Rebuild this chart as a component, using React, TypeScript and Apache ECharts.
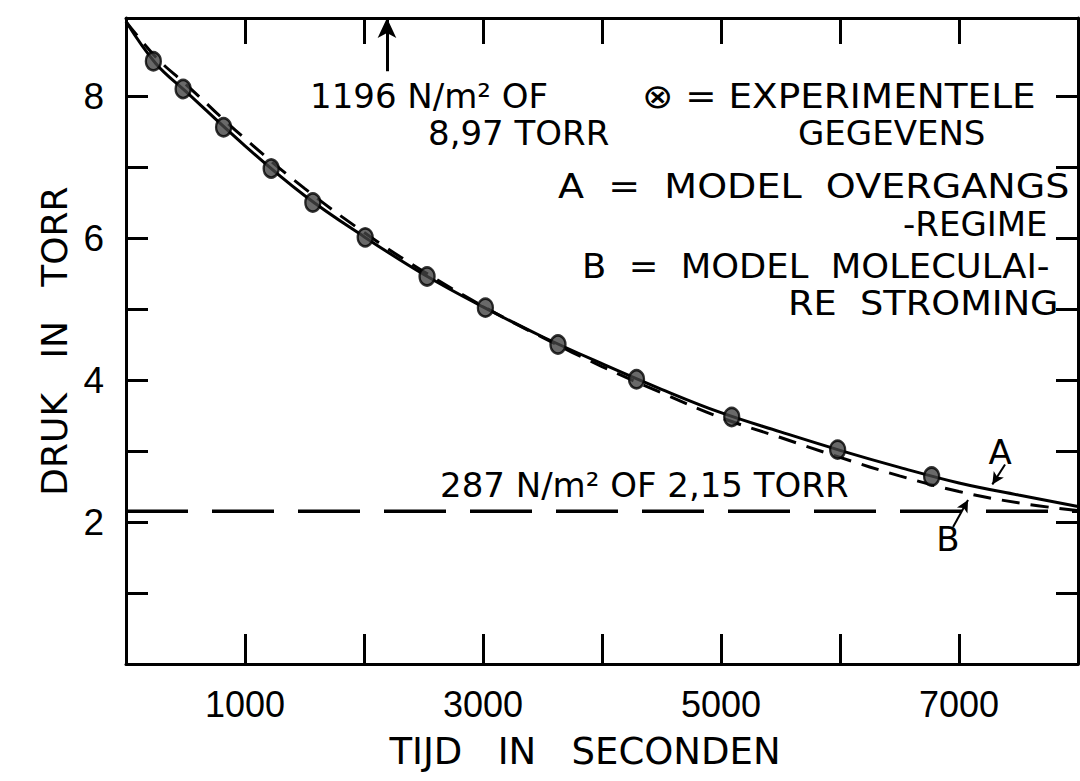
import { useEffect, useRef } from 'react';
import * as echarts from 'echarts';

// Axis ticks and labels
const xTickValues = [1000, 2000, 3000, 4000, 5000, 6000, 7000];
const xLabelValues = [1000, 3000, 5000, 7000];
const yTickValues = [1, 2, 3, 4, 5, 6, 7, 8];
const yLabelValues = [2, 4, 6, 8];

// Model A (overgangsregime), solid curve
const timeA = [0, 250, 500, 1000, 1500, 2000, 2500, 3000, 3500, 4000, 4500, 5000, 5500, 6000, 6500, 7000, 7500, 8000];
const pressA = [9.05, 8.46, 8.07, 7.3, 6.6, 6.02, 5.49, 5.03, 4.61, 4.23, 3.87, 3.54, 3.27, 3.01, 2.77, 2.55, 2.38, 2.22];

// Model B (moleculaire stroming), dashed curve
const timeB = [0, 250, 500, 1000, 1500, 2000, 2500, 3000, 3500, 4000, 4500, 5000, 5500, 6000, 6500, 7000, 7500, 8000];
const pressB = [9.05, 8.55, 8.17, 7.4, 6.7, 6.08, 5.53, 5.04, 4.6, 4.19, 3.82, 3.47, 3.19, 2.91, 2.65, 2.43, 2.27, 2.16];

// Experimental data
const timeExp = [230, 480, 820, 1220, 1570, 2010, 2530, 3020, 3630, 4290, 5090, 5980, 6770];
const pressExp = [8.49, 8.1, 7.56, 6.98, 6.5, 6.01, 5.46, 5.02, 4.5, 4.01, 3.48, 3.02, 2.64];

// Final pressure level line (2.15 torr)
const finalTime = [0, 8000];
const finalPress = [2.15, 2.15];

// Annotation arrows [from, to]
const arrowTop = [[2193, 8.35], [2193, 9.1]];
const arrowA = [[7387, 2.81], [7280, 2.53]];
const arrowB = [[6950, 1.93], [7076, 2.31]];

const zip = (a: number[], b: number[]) => a.map((v, i) => [v, b[i]]);

const NUM_FONT = "'Liberation Sans', Arial, sans-serif";
const TXT_FONT = "'DejaVu Sans', sans-serif";

function txt(text: string, x: number, y: number, size: number, sx = 1, align = 'left') {
  return {
    type: 'text',
    x,
    y,
    scaleX: sx,
    silent: true,
    z: 10,
    style: {
      text,
      x: 0,
      y: 0,
      fill: '#000',
      fontSize: size,
      fontFamily: TXT_FONT,
      textAlign: align,
      textVerticalAlign: 'middle',
      align,
      verticalAlign: 'middle',
    },
  };
}

export default function App() {
  const ref = useRef<HTMLDivElement>(null);
  useEffect(() => {
    if (!ref.current) return;
    const chart = echarts.init(ref.current, null, { renderer: 'svg' });
    const axisLine = { show: true, onZero: false, lineStyle: { color: '#000', width: 3 } };
    chart.setOption({
      animation: false,
      backgroundColor: '#fff',
      grid: { left: 126, top: 18, right: 2, bottom: 117, containLabel: false },
      xAxis: [
        {
          type: 'value',
          position: 'bottom',
          min: 0,
          max: 8000,
          interval: 1000,
          axisLine,
          axisTick: { show: true, inside: true, length: 30, customValues: xTickValues, lineStyle: { color: '#000', width: 3 } },
          axisLabel: {
            customValues: xLabelValues,
            formatter: (v: number) => String(v),
            margin: 22,
            color: '#000',
            fontSize: 36,
            fontFamily: NUM_FONT,
          },
          splitLine: { show: false },
          name: 'TIJD   IN   SECONDEN',
          nameLocation: 'middle',
          nameGap: 69,
          nameTextStyle: { color: '#000', fontSize: 37, fontFamily: TXT_FONT, padding: [0, 34, 0, 0] },
        },
        {
          type: 'value',
          position: 'top',
          min: 0,
          max: 8000,
          interval: 1000,
          axisLine,
          axisTick: { show: true, inside: true, length: 26, customValues: xTickValues, lineStyle: { color: '#000', width: 3 } },
          axisLabel: { show: false },
          splitLine: { show: false },
        },
      ],
      yAxis: [
        {
          type: 'value',
          position: 'left',
          min: 0,
          max: 9.1,
          interval: 1,
          axisLine,
          axisTick: { show: true, inside: true, length: 22, customValues: yTickValues, lineStyle: { color: '#000', width: 3 } },
          axisLabel: { customValues: yLabelValues, margin: 22, color: '#000', fontSize: 37, fontFamily: NUM_FONT },
          splitLine: { show: false },
          name: 'DRUK   IN   TORR',
          nameLocation: 'middle',
          nameGap: 52,
          nameTextStyle: { color: '#000', fontSize: 36, fontFamily: TXT_FONT },
        },
        {
          type: 'value',
          position: 'right',
          min: 0,
          max: 9.1,
          interval: 1,
          axisLine,
          axisTick: { show: true, inside: true, length: 22, customValues: yTickValues, lineStyle: { color: '#000', width: 3 } },
          axisLabel: { show: false },
          splitLine: { show: false },
        },
      ],
      series: [
        {
          name: 'Eindniveau',
          type: 'line',
          data: zip(finalTime, finalPress),
          showSymbol: false,
          symbol: 'none',
          lineStyle: { color: '#000', width: 3.5, type: [62, 24] },
          z: 2,
        },
        {
          name: 'A',
          type: 'line',
          data: zip(timeA, pressA),
          smooth: 0.4,
          showSymbol: false,
          symbol: 'none',
          lineStyle: { color: '#000', width: 3 },
          z: 3,
          markLine: {
            silent: true,
            symbol: ['none', 'arrow'],
            symbolSize: [14, 20],
            label: { show: false },
            lineStyle: { color: '#000', width: 3, type: 'solid' },
            data: [
              [{ coord: arrowTop[0] }, { coord: arrowTop[1] }],
              [
                { coord: arrowA[0], lineStyle: { width: 2 }, symbolSize: [9, 12] },
                { coord: arrowA[1], lineStyle: { width: 2 }, symbolSize: [9, 12] },
              ],
              [
                { coord: arrowB[0], lineStyle: { width: 2 }, symbolSize: [9, 12] },
                { coord: arrowB[1], lineStyle: { width: 2 }, symbolSize: [9, 12] },
              ],
            ],
          },
        },
        {
          name: 'B',
          type: 'line',
          data: zip(timeB, pressB),
          smooth: 0.4,
          showSymbol: false,
          symbol: 'none',
          lineStyle: { color: '#000', width: 3, type: [18, 11] },
          z: 3,
        },
        {
          name: 'Experimentele gegevens',
          type: 'scatter',
          data: zip(timeExp, pressExp),
          symbol: 'circle',
          symbolSize: [15, 18],
          itemStyle: { color: '#444', borderColor: '#000', borderWidth: 2.5 },
          z: 5,
        },
      ],
      graphic: [
        txt('1196 N/m² OF', 310, 96, 34),
        txt('8,97 TORR', 428, 133, 34),
        txt('⊗ = EXPERIMENTELE', 642, 96, 34, 1.1),
        txt('GEGEVENS', 798, 133, 34),
        txt('A  =  MODEL  OVERGANGS', 558, 187, 34, 1.12),
        txt('-REGIME', 903, 224, 34),
        txt('B  =  MODEL  MOLECULAI-', 582, 266, 34, 1.04),
        txt('RE  STROMING', 788, 303, 34, 1.08),
        txt('287 N/m² OF 2,15 TORR', 440, 485, 34),
        txt('A', 1000, 452, 34, 1, 'center'),
        txt('B', 948, 539, 34, 1, 'center'),
      ],
    });
    return () => chart.dispose();
  }, []);
  return (
    <div
      ref={ref}
      style={{ position: 'absolute', left: 0, top: 0, width: 1080, height: 781, background: '#fff' }}
    />
  );
}
